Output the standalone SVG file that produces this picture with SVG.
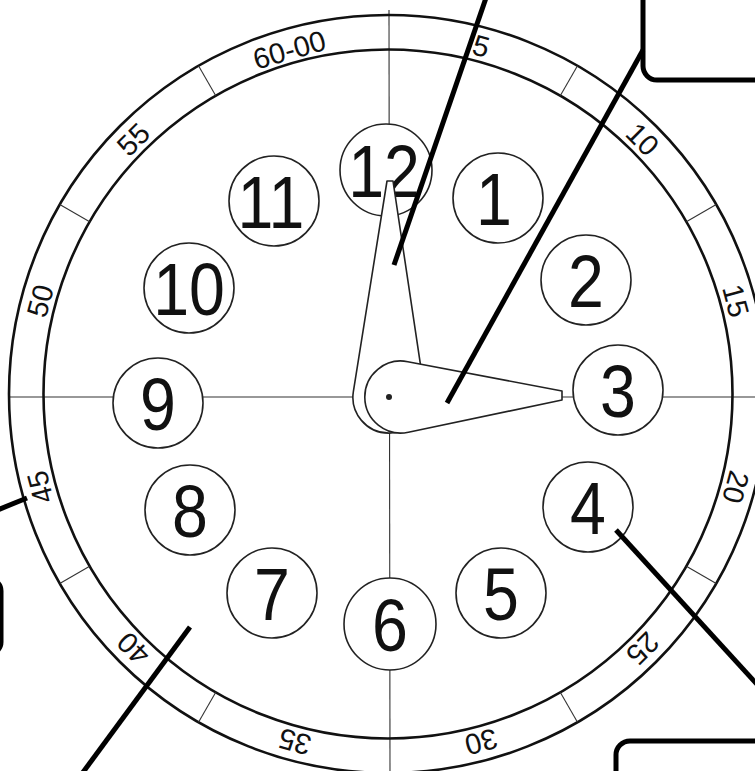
<svg xmlns="http://www.w3.org/2000/svg" width="755" height="771" viewBox="0 0 755 771">
<style>
.ring{fill:none;stroke:#111;stroke-width:2.6}
.axis{stroke:#333;stroke-width:1.1;fill:none}
.tick{stroke:#333;stroke-width:1.1}
.lbl{font-family:"Liberation Sans",Arial,sans-serif;font-size:29px;fill:#111;text-anchor:middle;dominant-baseline:central}
.numc{fill:#fff;stroke:#222;stroke-width:1.6}
.num{font-family:"Liberation Sans",Arial,sans-serif;font-size:75px;fill:#111;text-anchor:middle}
.hand{fill:#fff;stroke:#222;stroke-width:1.6;stroke-linejoin:round}
.conn{stroke:#000;stroke-width:5;fill:none;stroke-linecap:butt}
.box{fill:#fff;stroke:#000;stroke-width:5}
</style>
<rect width="755" height="771" fill="#fff"/>
<g id="dial">
  <line class="axis" x1="9" y1="397" x2="760" y2="397"/>
  <line class="axis" x1="389" y1="10" x2="390" y2="775"/>
  <circle class="ring" cx="388" cy="394" r="379"/>
  <circle class="ring" cx="388" cy="394" r="344.5"/>
  <g id="ticks">
    <line class="tick" x1="388" y1="49.5" x2="388" y2="15" transform="rotate(30 388 394)"/>
    <line class="tick" x1="388" y1="49.5" x2="388" y2="15" transform="rotate(60 388 394)"/>
    <line class="tick" x1="388" y1="49.5" x2="388" y2="15" transform="rotate(120 388 394)"/>
    <line class="tick" x1="388" y1="49.5" x2="388" y2="15" transform="rotate(150 388 394)"/>
    <line class="tick" x1="388" y1="49.5" x2="388" y2="15" transform="rotate(210 388 394)"/>
    <line class="tick" x1="388" y1="49.5" x2="388" y2="15" transform="rotate(240 388 394)"/>
    <line class="tick" x1="388" y1="49.5" x2="388" y2="15" transform="rotate(300 388 394)"/>
    <line class="tick" x1="388" y1="49.5" x2="388" y2="15" transform="rotate(330 388 394)"/>
  </g>
  <g id="minute-labels">
    <text class="lbl" x="388" y="34" transform="rotate(15 388 394)">5</text>
    <text class="lbl" x="388" y="34" transform="rotate(45 388 394)">10</text>
    <text class="lbl" x="388" y="34" transform="rotate(75 388 394)">15</text>
    <text class="lbl" x="388" y="34" transform="rotate(105 388 394)">20</text>
    <text class="lbl" x="388" y="34" transform="rotate(135 388 394)">25</text>
    <text class="lbl" x="388" y="34" transform="rotate(165 388 394)">30</text>
    <text class="lbl" x="388" y="34" transform="rotate(195 388 394)">35</text>
    <text class="lbl" x="388" y="34" transform="rotate(225 388 394)">40</text>
    <text class="lbl" x="388" y="34" transform="rotate(255 388 394)">45</text>
    <text class="lbl" x="388" y="34" transform="rotate(285 388 394)">50</text>
    <text class="lbl" x="388" y="34" transform="rotate(315 388 394)">55</text>
    <text class="lbl" x="388" y="36" transform="rotate(344 388 394)">60-00</text>
  </g>
</g>
<g id="n12"><circle class="numc" cx="386" cy="170" r="46"/><text class="num" transform="translate(384 197) scale(0.86 1)">12</text></g>
<g id="n1"><circle class="numc" cx="498" cy="198" r="45"/><text class="num" transform="translate(494 225) scale(0.86 1)">1</text></g>
<g id="n2"><circle class="numc" cx="586" cy="280" r="45"/><text class="num" transform="translate(586 307) scale(0.86 1)">2</text></g>
<g id="n3"><circle class="numc" cx="618" cy="390" r="45"/><text class="num" transform="translate(618 417) scale(0.86 1)">3</text></g>
<g id="n4"><circle class="numc" cx="588" cy="507" r="45"/><text class="num" transform="translate(588 534) scale(0.86 1)">4</text></g>
<g id="n5"><circle class="numc" cx="501" cy="593" r="45"/><text class="num" transform="translate(501 620) scale(0.86 1)">5</text></g>
<g id="n6"><circle class="numc" cx="390" cy="624" r="46"/><text class="num" transform="translate(390 651) scale(0.86 1)">6</text></g>
<g id="n7"><circle class="numc" cx="272" cy="593" r="45"/><text class="num" transform="translate(272 620) scale(0.86 1)">7</text></g>
<g id="n8"><circle class="numc" cx="190" cy="510" r="45"/><text class="num" transform="translate(190 537) scale(0.86 1)">8</text></g>
<g id="n9"><circle class="numc" cx="158" cy="403" r="45"/><text class="num" transform="translate(158 430) scale(0.86 1)">9</text></g>
<g id="n10"><circle class="numc" cx="189" cy="288" r="45"/><text class="num" transform="translate(189 315) scale(0.86 1)">10</text></g>
<g id="n11"><circle class="numc" cx="274" cy="201" r="45"/><text class="num" transform="translate(271 228) scale(0.86 1)">11</text></g>
<g id="hour-hand"><path class="hand" d="M387 181 L393 181 L424.5 391.7 A36 36 0 1 1 353.4 391.3 Z"/></g>
<g id="minute-hand"><path class="hand" d="M562 391 L562 400 L408.4 432.2 A36 36 0 1 1 407.8 361.7 Z"/></g>
<g id="pivot"><circle cx="389" cy="397" r="3" fill="#222"/></g>
<g id="box-top-right"><rect class="box" x="643" y="-40" width="160" height="120" rx="14"/></g>
<g id="box-bottom-right"><rect class="box" x="616" y="741" width="200" height="100" rx="14"/></g>
<g id="box-left"><rect class="box" x="-150" y="579" width="151" height="75" rx="12"/></g>
<g id="connectors">
  <line class="conn" x1="487" y1="-5" x2="394" y2="265"/>
  <line class="conn" x1="643" y1="50" x2="447" y2="403"/>
  <line class="conn" x1="616" y1="530" x2="764" y2="692"/>
  <line class="conn" x1="190" y1="627" x2="81" y2="775"/>
  <line class="conn" x1="27" y1="498" x2="-5" y2="511"/>
</g>
</svg>
